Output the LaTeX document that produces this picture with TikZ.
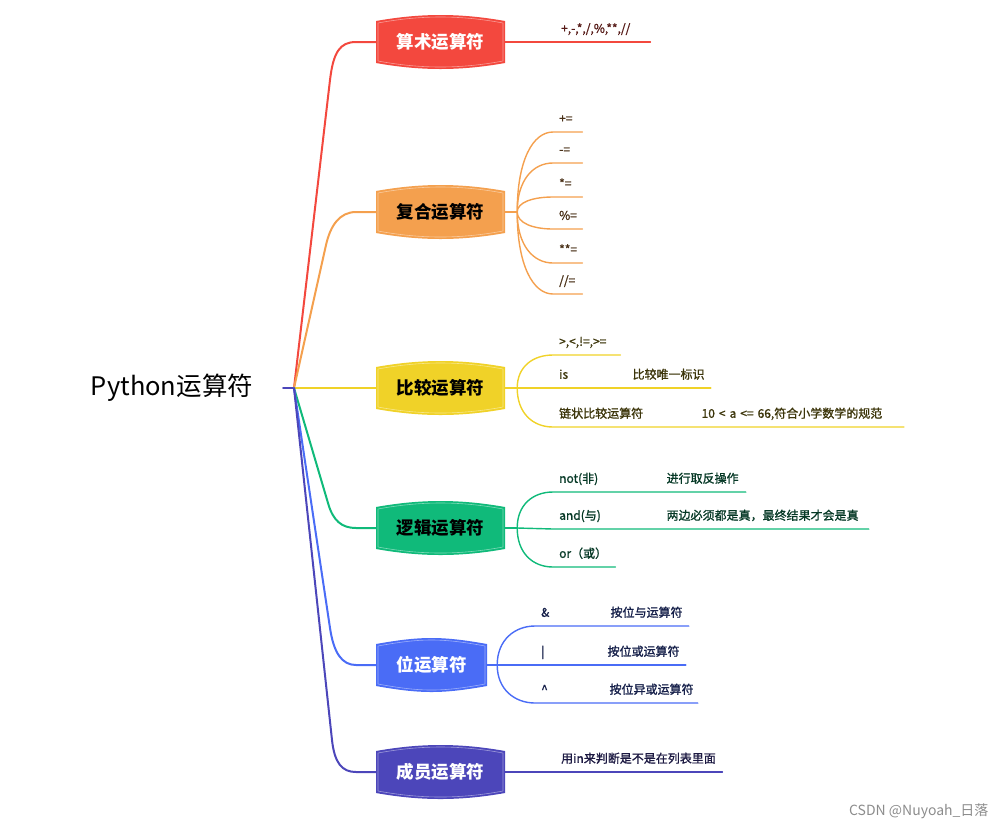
\documentclass[tikz,border=0pt]{standalone}
\usepackage{fontspec}
\setmainfont{Noto Sans CJK SC}
\newfontfamily\leaffont[FakeBold=1.2]{Noto Sans CJK SC}
\usetikzlibrary{calc}

\definecolor{cred}{RGB}{243,72,62}
\definecolor{corange}{RGB}{244,160,78}
\definecolor{cyellow}{RGB}{240,210,40}
\definecolor{cgreen}{RGB}{16,186,122}
\definecolor{cblue}{RGB}{74,108,246}
\definecolor{cpurple}{RGB}{76,70,186}

\tikzset{
  opbox/.style={minimum width=129pt, minimum height=54pt, inner sep=0pt,
    font=\fontsize{17.5}{20}\selectfont\bfseries,
    path picture={
      \fill[#1] ([shift={(0,6)}]path picture bounding box.north west)
        .. controls ([shift={(45,-2)}]path picture bounding box.north west)
        and ([shift={(-45,-2)}]path picture bounding box.north east)
        .. ([shift={(0,6)}]path picture bounding box.north east)
        -- ([shift={(0,-6)}]path picture bounding box.south east)
        .. controls ([shift={(-45,2)}]path picture bounding box.south east)
        and ([shift={(45,2)}]path picture bounding box.south west)
        .. ([shift={(0,-6)}]path picture bounding box.south west) -- cycle;
      \draw[white, opacity=.45, line width=.6pt]
        ([shift={(2,8)}]path picture bounding box.north west)
        .. controls ([shift={(45,0)}]path picture bounding box.north west)
        and ([shift={(-45,0)}]path picture bounding box.north east)
        .. ([shift={(-2,8)}]path picture bounding box.north east)
        -- ([shift={(-2,-8)}]path picture bounding box.south east)
        .. controls ([shift={(-45,0)}]path picture bounding box.south east)
        and ([shift={(45,0)}]path picture bounding box.south west)
        .. ([shift={(2,-8)}]path picture bounding box.south west) -- cycle;
    }},
  trunk/.style={draw=#1, line width=2pt},
  twig/.style={draw=#1, line width=1.4pt},
  leaf/.style={anchor=south west, inner xsep=6pt, inner ysep=6pt, text width=#1,
    text height=9pt, text depth=3pt, font=\leaffont\fontsize{12}{14}\selectfont},
  gleaf/.style={leaf=#1, inner xsep=10pt},
  forkto/.style={to path={.. controls ($(\tikztostart)!0.65!(\tikztostart |- \tikztotarget)$)
    and ($(\tikztotarget)+(-20,0)$) .. (\tikztotarget)}},
}

\begin{document}
\begin{tikzpicture}[x=1pt, y=-1pt, line cap=round, line join=round]
  \useasboundingbox (0,0) rectangle (1006,831);
  % la raiz
  \node[font=\fontsize{25.5}{30}\selectfont, inner xsep=30pt] (root) at (172,388) {Python运算符};
  \coordinate (hub) at (294,388);
  \draw[trunk=cpurple] (root.east) -- (hub);

  % las cajas de los operadores
  \node[opbox=cred, text=white] (b1) at (440.5,42) {算术运算符};
  \node[opbox=corange] (b2) at (440.5,212) {复合运算符};
  \node[opbox=cyellow] (b3) at (440.5,388) {比较运算符};
  \node[opbox=cgreen] (b4) at (440.5,528) {逻辑运算符};
  \node[opbox=cblue, text=white, minimum width=111pt] (b5) at (431.5,665) {位运算符};
  \node[opbox=cpurple, text=white] (b6) at (440.5,772) {成员运算符};

  % los troncos
  \draw[trunk=cred] (hub) -- (330,80) .. controls (333.3,52) and (340,42) .. (356,42) -- (b1.west);
  \draw[trunk=corange] (hub) -- (326,245) .. controls (330.5,225) and (340,212) .. (356,212) -- (b2.west);
  \draw[trunk=cyellow] (hub) -- (b3.west);
  \draw[trunk=cgreen] (hub) -- (328,503) .. controls (333,521) and (342,528) .. (356,528) -- (b4.west);
  \draw[trunk=cblue] (hub) -- (330,628) .. controls (333.7,653) and (342,665) .. (356,665) -- (b5.west);
  \draw[trunk=cpurple] (hub) -- (332,740) .. controls (334.5,763) and (342,772) .. (356,772) -- (b6.west);

  % aritmeticos
  \begin{scope}[every node/.append style={text=cred!35!black}]
    \node[leaf=83pt] (c11) at (555,42) {+,-,*,/,\%,**,//};
  \end{scope}
  \draw[twig=cred] (b1.east) -- (c11.south west) -- (c11.south east);

  % compuestos
  \coordinate (f2) at ([xshift=12pt]b2.east);
  \begin{scope}[every node/.append style={text=corange!30!black}]
    \node[leaf=17pt] (c21) at (553,132) {+=};
    \node[leaf=17pt] (c22) at (553,163) {-=};
    \node[leaf=17pt] (c23) at (553,197) {*=};
    \node[leaf=17pt] (c24) at (553,229) {\%=};
    \node[leaf=17pt] (c25) at (553,263) {**=};
    \node[leaf=17pt] (c26) at (553,294) {//=};
  \end{scope}
  \draw[twig=corange] (b2.east) -- (f2);
  \foreach \n in {c21,c22,c23,c24,c25,c26}
    \draw[twig=corange] (f2) to[forkto] (\n.south west) -- (\n.south east);

  % comparacion
  \coordinate (f3) at ([xshift=12pt]b3.east);
  \begin{scope}[every node/.append style={text=cyellow!25!black}]
    \node[leaf=55pt] (c31) at (553,355) {>,<,!=,>=};
    \node[leaf=57pt] (c32) at (553,388) {is};
    \node[gleaf=68pt, at=(c32.south east)] (g32) {比较唯一标识};
    \node[leaf=126pt] (c33) at (553,427) {链状比较运算符};
    \node[gleaf=192pt, at=(c33.south east)] (g33) {10 < a <= 66,符合小学数学的规范};
  \end{scope}
  \draw[twig=cyellow] (b3.east) -- (f3);
  \draw[twig=cyellow] (f3) to[forkto] (c31.south west) -- (c31.south east);
  \draw[twig=cyellow] (f3) -- (c32.south west) -- (c32.south east) -- (g32.south east);
  \draw[twig=cyellow] (f3) to[forkto] (c33.south west) -- (c33.south east) -- (g33.south east);

  % logicos
  \coordinate (f4) at ([xshift=12pt]b4.east);
  \begin{scope}[every node/.append style={text=cgreen!30!black}]
    \node[leaf=91pt] (c41) at (553,492) {not(非)};
    \node[gleaf=69pt, at=(c41.south east)] (g41) {进行取反操作};
    \node[leaf=91pt] (c42) at (553,529) {and(与)};
    \node[gleaf=192pt, at=(c42.south east)] (g42) {两边必须都是真，最终结果才会是真};
    \node[leaf=50pt] (c43) at (553,567) {or（或）};
  \end{scope}
  \draw[twig=cgreen] (b4.east) -- (f4);
  \draw[twig=cgreen] (f4) to[forkto] (c41.south west) -- (c41.south east) -- (g41.south east);
  \draw[twig=cgreen] (f4) -- (c42.south west) -- (c42.south east) -- (g42.south east);
  \draw[twig=cgreen] (f4) to[forkto] (c43.south west) -- (c43.south east);

  % bit a bit
  \coordinate (f5) at ([xshift=10pt]b5.east);
  \begin{scope}[every node/.append style={text=cblue!30!black}]
    \node[leaf=53pt] (c51) at (535,626) {\&};
    \node[gleaf=68pt, at=(c51.south east)] (g51) {按位与运算符};
    \node[leaf=50pt] (c52) at (535,665) {|};
    \node[gleaf=68pt, at=(c52.south east)] (g52) {按位或运算符};
    \node[leaf=52pt] (c53) at (535,703) {\^{}};
    \node[gleaf=78pt, at=(c53.south east)] (g53) {按位异或运算符};
  \end{scope}
  \draw[twig=cblue] (b5.east) -- (f5);
  \draw[twig=cblue] (f5) to[forkto] (c51.south west) -- (c51.south east) -- (g51.south east);
  \draw[twig=cblue] (f5) -- (c52.south west) -- (c52.south east) -- (g52.south east);
  \draw[twig=cblue] (f5) to[forkto] (c53.south west) -- (c53.south east) -- (g53.south east);

  % miembros
  \begin{scope}[every node/.append style={text=cpurple!35!black}]
    \node[leaf=155pt] (c61) at (555,772) {用in来判断是不是在列表里面};
  \end{scope}
  \draw[twig=cpurple] (b6.east) -- (c61.south west) -- (c61.south east);

  % la marca
  \node[anchor=east, text=black!45, font=\fontsize{14}{16}\selectfont] (mark) at (992,811) {CSDN @Nuyoah\_日落};
\end{tikzpicture}
\end{document}
